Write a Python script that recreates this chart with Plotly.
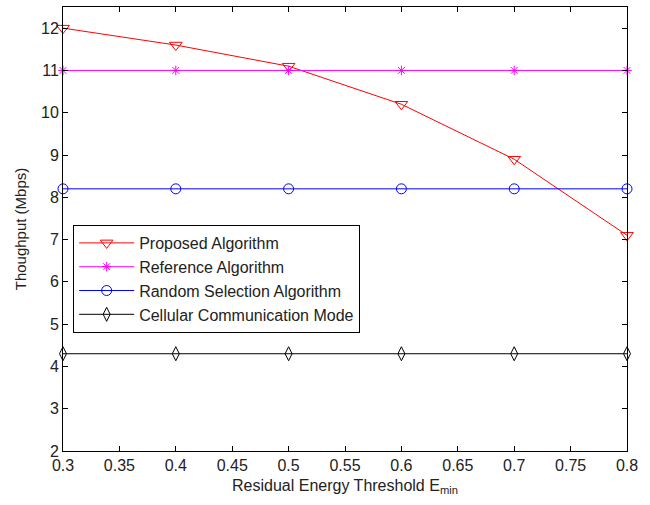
import plotly.graph_objects as go

x = [0.3, 0.4, 0.5, 0.6, 0.7, 0.8]
proposed = [12.0, 11.6, 11.1, 10.2, 8.9, 7.1]
reference = [11.0, 11.0, 11.0, 11.0, 11.0, 11.0]
random_sel = [8.2, 8.2, 8.2, 8.2, 8.2, 8.2]
cellular = [4.3, 4.3, 4.3, 4.3, 4.3, 4.3]
xticks = [0.3, 0.35, 0.4, 0.45, 0.5, 0.55, 0.6, 0.65, 0.7, 0.75, 0.8]
yticks = [2, 3, 4, 5, 6, 7, 8, 9, 10, 11, 12]

FONT = "Liberation Sans, Arial"
fig = go.Figure()
series = [
    ("Proposed Algorithm", proposed, "#ff0000", "triangle-down-open", 11),
    ("Reference Algorithm", reference, "#ff00ff", "asterisk-open", 8),
    ("Random Selection Algorithm", random_sel, "#0000ff", "circle-open", 10),
    ("Cellular Communication Mode", cellular, "#000000", "diamond-tall-open", 10),
]
for name, ys, c, sym, sz in series:
    fig.add_trace(go.Scatter(x=x, y=ys, name=name, mode="lines+markers",
                             line=dict(color=c, width=1),
                             marker=dict(symbol=sym, size=sz, color=c, line=dict(color=c, width=1)),
                             cliponaxis=False))

axis_common = dict(showgrid=False, zeroline=False, showline=True, linecolor="black", linewidth=1,
                   mirror="allticks", ticks="inside", ticklen=5, tickcolor="black",
                   tickfont=dict(family=FONT, size=16, color="#222"))
fig.update_xaxes(range=[0.3, 0.8], tickvals=xticks, ticktext=[str(v) for v in xticks],
                 title=dict(text="Residual Energy Threshold E<sub>min</sub>", standoff=6,
                            font=dict(family=FONT, size=16, color="#222")),
                 **axis_common)
fig.update_yaxes(range=[2, 12.5], tickvals=yticks,
                 title=dict(text="Thoughput (Mbps)", standoff=10,
                            font=dict(family=FONT, size=15, color="#222")),
                 **axis_common)
fig.update_layout(
    width=650, height=505, paper_bgcolor="white", plot_bgcolor="white",
    margin=dict(l=63, r=23, t=7, b=54),
    font=dict(family=FONT, size=16, color="#222"),
    legend=dict(x=0.018, y=0.509, xanchor="left", yanchor="top", bgcolor="white",
                bordercolor="black", borderwidth=1, itemwidth=55,
                font=dict(family=FONT, size=16, color="#222"),
                tracegroupgap=0),
)
fig.write_html("out.html")
